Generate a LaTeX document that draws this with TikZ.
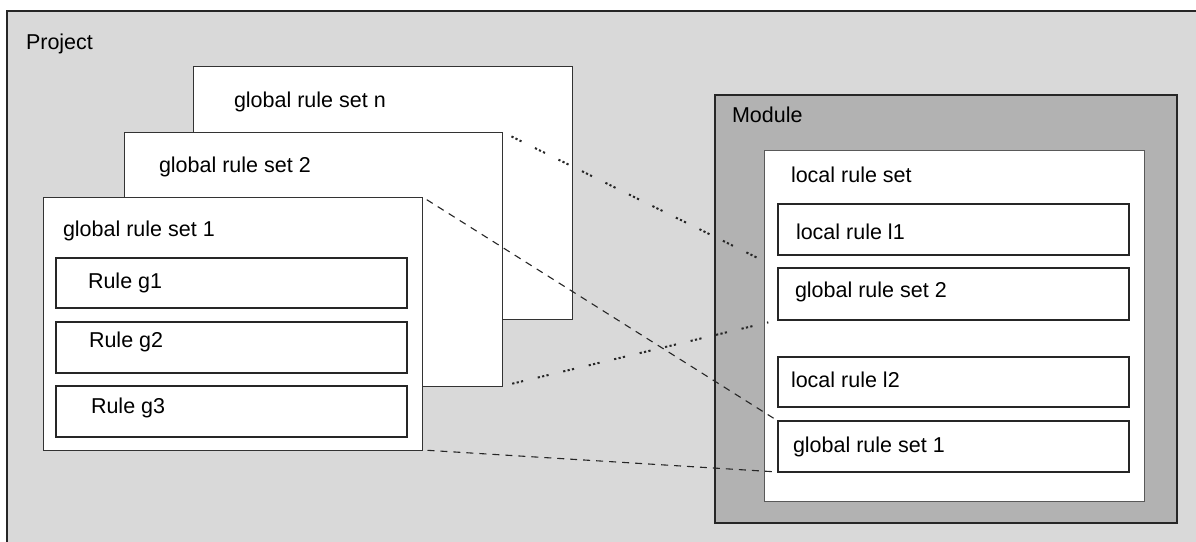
\documentclass[tikz,border=0pt]{standalone}
\usepackage{fontspec}
\setmainfont{Liberation Sans}
\begin{document}
\begin{tikzpicture}[x=1pt,y=-1pt,
  every node/.style={inner sep=0pt, outer sep=0pt},
  lbl/.style={anchor=base west, font=\fontsize{21.5}{26}\selectfont, text=black},
  setbox/.style={draw=black!80, line width=1pt, fill=white, anchor=north west},
  rulebox/.style={draw=black!85, line width=2pt, fill=white, anchor=north west},
  conndot/.style={draw=black!85, line width=2pt, dash pattern=on 2.2pt off 2.3pt on 2.2pt off 2.3pt on 2.2pt off 15pt, shorten <=10pt, shorten >=10pt},
  conndash/.style={draw=black!85, line width=1.1pt, dash pattern=on 7pt off 6pt, shorten <=5pt, shorten >=5pt}
]
\useasboundingbox (0,0) rectangle (1196,541);
\clip (0,0) rectangle (1196,541);
\fill[white] (0,0) rectangle (1196,541);

% Project
\node[draw=black!85, line width=1.3pt, fill=black!15, anchor=north west,
      minimum width=1200pt, minimum height=540pt] (project) at (7,11) {};
\node[lbl] (projectlbl) at (26,49) {Project};

% global rule sets (stack)
\node[setbox, minimum width=379pt, minimum height=253pt] (gn) at (193,66) {};
\node[lbl] (gnlbl) at (234,107) {global rule set n};
\node[setbox, minimum width=378.5pt, minimum height=254pt] (gtwo) at (124,132) {};
\node[lbl] (gtwolbl) at (159,172) {global rule set 2};
\node[setbox, minimum width=379.5pt, minimum height=253pt] (gone) at (43,197) {};
\node[lbl] (gonelbl) at (63,236) {global rule set 1};

\node[rulebox, minimum width=351pt, minimum height=50pt] (rgone) at (56,258) {};
\node[lbl] (rgonelbl) at (88,288) {Rule g1};
\node[rulebox, minimum width=351pt, minimum height=51pt] (rgtwo) at (56,322) {};
\node[lbl] (rgtwolbl) at (89,347) {Rule g2};
\node[rulebox, minimum width=351pt, minimum height=51pt] (rgthree) at (56,386) {};
\node[lbl] (rgthreelbl) at (91,413) {Rule g3};

% Module
\node[draw=black!85, line width=1.5pt, fill=black!30, anchor=north west,
      minimum width=462pt, minimum height=428pt] (module) at (715,95) {};
\node[lbl] (modulelbl) at (732,122) {Module};

\node[draw=black!65, line width=1pt, fill=white, anchor=north west,
      minimum width=380pt, minimum height=351pt] (lset) at (764,150) {};
\node[lbl] (lsetlbl) at (791,182) {local rule set};

\node[rulebox, minimum width=351pt, minimum height=51pt] (lone) at (778,204) {};
\node[lbl] (lonelbl) at (796,239) {local rule l1};
\node[rulebox, minimum width=351pt, minimum height=52pt] (lgtwo) at (778,268) {};
\node[lbl] (lgtwolbl) at (795,297) {global rule set 2};
\node[rulebox, minimum width=351pt, minimum height=50pt] (ltwo) at (778,357) {};
\node[lbl] (ltwolbl) at (791,387) {local rule l2};
\node[rulebox, minimum width=351pt, minimum height=51pt] (lgone) at (778,421) {};
\node[lbl] (lgonelbl) at (793,452) {global rule set 1};

% connectors
\draw[conndot] (gtwo.north east) -- (lgtwo.north west);
\draw[conndot] (gtwo.south east) -- (lgtwo.south west);
\draw[conndash] (gone.north east) -- (lgone.north west);
\draw[conndash] (gone.south east) -- (lgone.south west);
\end{tikzpicture}
\end{document}
